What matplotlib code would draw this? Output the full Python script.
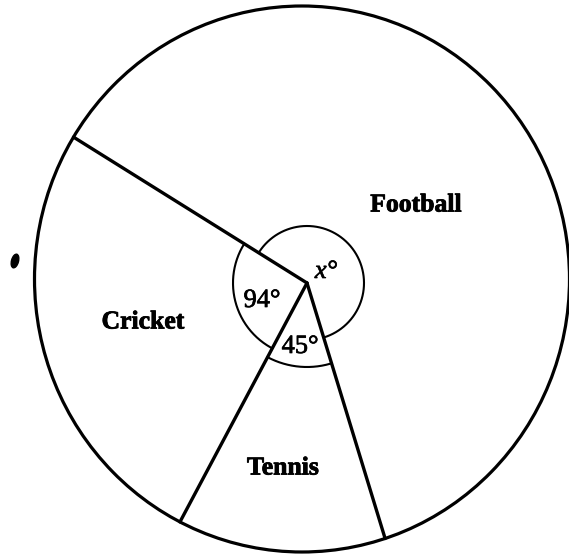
import numpy as np
import matplotlib.pyplot as plt
import matplotlib.patheffects as pe
from matplotlib.patches import Ellipse

# dane wykresu
sectors = ['Cricket', 'Tennis', 'Football']
angles = [94, 45, 360 - 94 - 45]          # x = 221
angle_labels = ['94°', '45°', 'x°']
start_angle = 148                          # kierunek pierwszej linii (stopnie)

# uklad w pikselach
W, H = 569, 556
vx, vy = 307, 283                          # wierzcholek katow
cx, cy, rx, ry = 302, 279, 267.5, 273      # zewnetrzny okrag
arc_r = [74, 84, 57]                       # promienie lukow katow
name_pos = [(143, 322), (283, 468), (416, 205)]
ang_pos = [(262, 301), (300, 347), (326, 272)]

fig = plt.figure(figsize=(W / 100, H / 100), dpi=100)
ax = fig.add_axes([0, 0, 1, 1])
ax.set_xlim(0, W)
ax.set_ylim(H, 0)
ax.axis('off')


def to_px(theta, r):
    t = np.radians(theta)
    return vx + r * np.cos(t), vy - r * np.sin(t)


def hit_outer(theta):
    t = np.radians(theta)
    dx, dy = np.cos(t), -np.sin(t)
    ox, oy = vx - cx, vy - cy
    a = (dx / rx) ** 2 + (dy / ry) ** 2
    b = 2 * (ox * dx / rx ** 2 + oy * dy / ry ** 2)
    c = (ox / rx) ** 2 + (oy / ry) ** 2 - 1
    s = (-b + np.sqrt(b * b - 4 * a * c)) / (2 * a)
    return vx + s * dx, vy + s * dy


ax.add_patch(Ellipse((cx, cy), 2 * rx, 2 * ry, fill=False, lw=2.3, color='black'))

bounds = start_angle + np.concatenate([[0], np.cumsum(angles)])
for th in bounds[:-1]:
    ex, ey = hit_outer(th)
    ax.plot([vx, ex], [vy, ey], color='black', lw=2.4, solid_capstyle='round')

for i in range(len(angles)):
    th = np.linspace(bounds[i], bounds[i + 1], 200)
    px, py = to_px(th, arc_r[i])
    ax.plot(px, py, color='black', lw=1.5)

for name, (x, y) in zip(sectors, name_pos):
    ax.text(x, y, name, ha='center', va='center', fontsize=18.5,
            fontweight='bold', family='Liberation Serif',
            path_effects=[pe.withStroke(linewidth=0.6, foreground='black')])

for lab, (x, y) in zip(angle_labels, ang_pos):
    style = 'italic' if lab.startswith('x') else 'normal'
    ax.text(x, y, lab, ha='center', va='center', fontsize=19,
            style=style, family='Liberation Serif',
            path_effects=[pe.withStroke(linewidth=0.5, foreground='black')])

# plamka ze skanu
ax.add_patch(Ellipse((15, 261), 7, 14, angle=15, color='black'))

fig.savefig('out.png', dpi=100)
